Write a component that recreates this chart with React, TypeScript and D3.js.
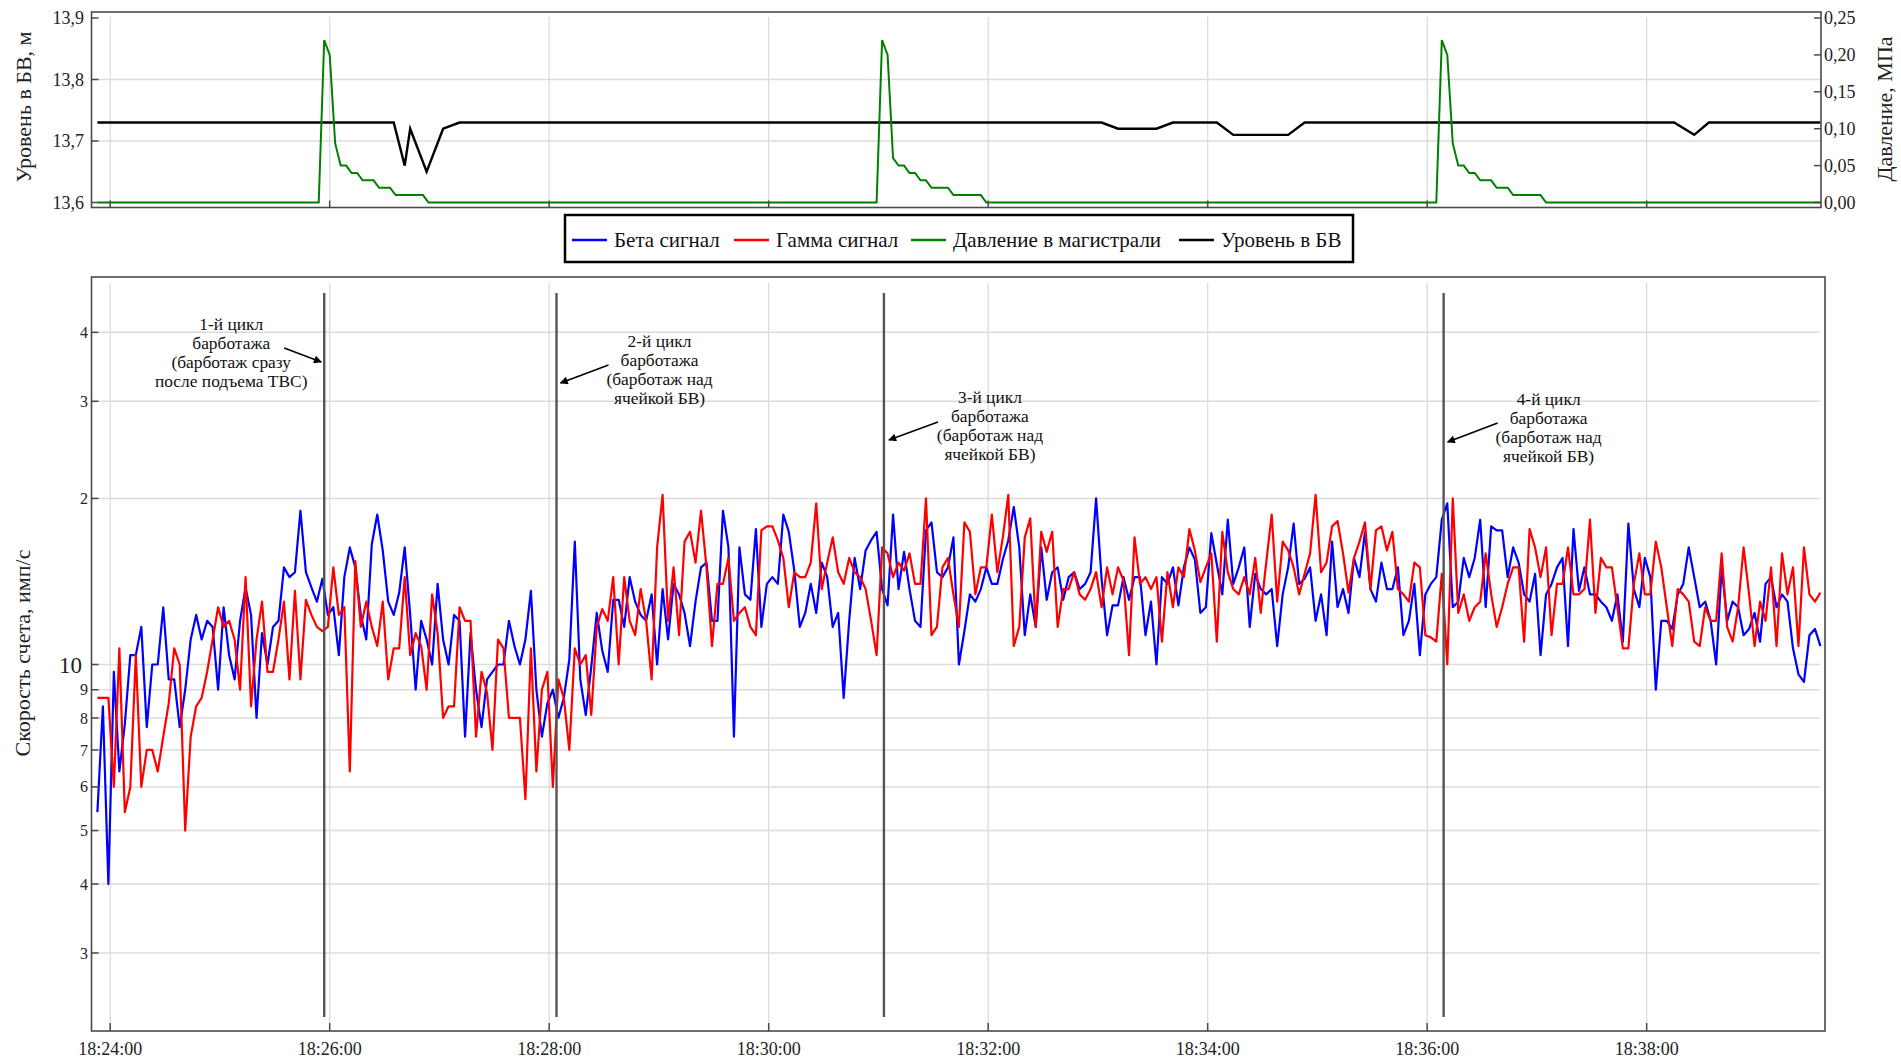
import * as d3 from "d3";

// samples every 3 s starting at 18:23:53
const seriesStart = "18:23:53";
const sampleStep = 3;

const betaSignal = [
  5.4, 8.4, 4.0, 9.7, 6.4, 7.8, 10.4, 10.4, 11.7, 7.7,
  10, 10, 12.7, 9.4, 9.4, 7.7, 9.0, 11.1, 12.3, 11.1,
  12.0, 11.7, 9.0, 12.7, 10.4, 9.4, 12.0, 13.8, 12.3, 8.0,
  11.4, 10, 11.7, 12.0, 15.0, 14.4, 14.7, 19.0, 14.7, 13.8,
  13.0, 14.3, 12.3, 12.7, 10.4, 14.4, 16.3, 15.0, 12.3, 11.1,
  16.5, 18.7, 16.1, 13.0, 12.3, 13.5, 16.3, 12.3, 9.0, 12.0,
  11.1, 10, 14.0, 11.1, 10, 12.3, 12.0, 7.4, 11.4, 9.0,
  7.7, 9.4, 9.7, 10, 10, 12.0, 10.8, 10, 11.1, 13.6,
  9.0, 7.4, 8.5, 9.0, 8.0, 8.7, 10.2, 16.7, 9.4, 8.1,
  9.9, 12.4, 10.6, 9.7, 13.1, 13.1, 11.7, 14.4, 13.0, 12.3,
  12.0, 13.4, 10, 13.7, 11.1, 14.0, 13.4, 12.4, 10.8, 13.0,
  15.0, 15.3, 12.0, 12.0, 19.0, 16.3, 7.4, 16.3, 13.4, 13.1,
  17.6, 11.7, 14.0, 14.4, 14.0, 18.7, 17.4, 14.8, 11.7, 12.4,
  14.0, 12.4, 15.3, 14.4, 11.7, 12.4, 8.7, 12.0, 15.6, 13.7,
  16.1, 16.8, 17.4, 13.7, 12.8, 18.7, 13.7, 16.0, 13.7, 12.0,
  11.7, 17.5, 18.1, 14.7, 14.4, 15.0, 17.0, 10, 11.5, 13.4,
  13.0, 13.7, 15.0, 14.0, 14.0, 15.5, 16.8, 19.3, 16.3, 11.3,
  13.4, 11.7, 16.3, 13.1, 14.7, 15.0, 13.1, 14.4, 14.7, 13.7,
  14.0, 14.7, 20.0, 14.3, 11.3, 12.8, 12.8, 14.4, 13.1, 14.4,
  14.4, 11.3, 13.0, 10, 14.4, 14.0, 15.0, 12.8, 15.0, 16.3,
  15.5, 12.4, 12.7, 17.3, 15.2, 13.4, 18.3, 14.0, 15.0, 16.3,
  11.7, 14.6, 13.7, 13.4, 13.7, 10.8, 13.4, 15.0, 18.0, 14.0,
  14.3, 15.0, 12.0, 13.4, 11.3, 16.7, 12.7, 13.7, 12.4, 15.6,
  14.4, 17.4, 13.7, 13.0, 15.3, 13.7, 13.7, 15.0, 11.3, 12.0,
  14.0, 10.4, 13.4, 14.0, 14.4, 18.3, 19.6, 12.7, 13.0, 15.6,
  14.4, 15.6, 18.3, 12.7, 17.8, 17.5, 17.5, 14.4, 16.3, 15.3,
  13.4, 13.0, 14.6, 10.4, 13.4, 14.0, 15.0, 15.6, 10.8, 17.6,
  13.6, 15.0, 13.4, 13.4, 13.0, 12.7, 12.0, 13.4, 11.0, 18.0,
  13.7, 12.7, 15.6, 14.4, 9.0, 12.0, 12.0, 11.6, 13.4, 14.0,
  16.3, 14.4, 12.7, 13.0, 12.0, 10, 15.0, 12.0, 13.0, 12.7,
  11.3, 11.6, 12.4, 11.0, 14.0, 14.4, 12.7, 13.4, 13.0, 10.7,
  9.6, 9.3, 11.3, 11.6, 10.8,
];

const gammaSignal = [
  8.7, 8.7, 8.7, 6.0, 10.7, 5.4, 6.0, 10.4, 6.0, 7.0,
  7.0, 6.4, 7.4, 8.5, 10.7, 10, 5.0, 7.4, 8.4, 8.7,
  9.7, 11.1, 12.7, 11.7, 12.0, 11.1, 9.0, 14.4, 8.4, 11.1,
  13.0, 9.7, 9.7, 11.1, 13.0, 9.4, 13.6, 9.4, 13.1, 12.3,
  11.7, 11.5, 11.7, 15.0, 12.3, 12.7, 6.4, 15.4, 11.7, 13.0,
  11.7, 10.8, 13.0, 9.4, 10.7, 10.7, 14.4, 10.4, 11.4, 10.8,
  9.0, 13.4, 11.4, 8.0, 8.4, 8.4, 12.7, 12.0, 12.0, 7.4,
  9.7, 8.9, 7.0, 11.1, 10.7, 8.0, 8.0, 8.0, 5.7, 10.7,
  6.4, 9.0, 9.7, 6.0, 9.4, 8.7, 7.0, 10.7, 10, 10.4,
  8.1, 11.7, 12.6, 12.0, 14.4, 10, 14.4, 12.0, 11.3, 13.7,
  12.0, 9.4, 16.3, 20.3, 12.0, 15.0, 11.3, 16.7, 17.4, 15.3,
  19.0, 15.0, 10.8, 14.0, 14.0, 15.6, 12.0, 12.4, 12.7, 11.7,
  11.3, 17.5, 17.8, 17.8, 16.8, 15.6, 12.7, 14.7, 14.4, 14.4,
  15.3, 19.6, 13.7, 15.3, 17.0, 14.7, 14.0, 15.6, 14.7, 14.4,
  13.7, 12.0, 10.4, 16.3, 15.9, 14.4, 15.3, 14.8, 15.9, 14.0,
  14.0, 20.0, 11.3, 11.7, 15.0, 15.6, 13.4, 11.7, 18.1, 17.4,
  13.4, 15.0, 15.0, 18.7, 14.7, 17.0, 20.3, 10.8, 11.7, 17.0,
  18.4, 11.7, 17.4, 16.0, 17.4, 11.7, 13.7, 13.7, 14.7, 13.4,
  13.1, 13.7, 14.7, 12.7, 15.0, 13.4, 15.0, 14.2, 10.4, 17.0,
  14.0, 14.4, 13.7, 14.4, 11.0, 14.7, 12.7, 15.0, 14.4, 17.6,
  16.1, 14.1, 15.0, 15.9, 11.0, 17.4, 14.7, 13.7, 13.4, 14.4,
  13.4, 15.6, 12.4, 15.3, 18.7, 13.0, 16.7, 16.1, 15.0, 13.4,
  14.6, 15.9, 20.3, 14.7, 15.3, 17.8, 18.2, 15.9, 13.5, 15.6,
  16.7, 18.1, 13.7, 17.5, 17.8, 16.1, 17.4, 13.7, 13.4, 13.0,
  15.3, 15.0, 11.3, 11.2, 11.0, 14.6, 10.0, 20.0, 12.4, 13.4,
  12.0, 12.7, 13.0, 15.9, 13.4, 11.7, 12.7, 14.0, 15.0, 15.0,
  11.0, 17.6, 16.3, 14.4, 16.3, 11.3, 14.0, 14.0, 16.3, 13.4,
  13.4, 13.7, 18.3, 12.4, 15.6, 15.0, 15.0, 12.7, 10.7, 10.7,
  14.0, 15.9, 13.4, 13.4, 16.7, 15.0, 12.7, 10.8, 13.7, 13.4,
  13.0, 11.0, 10.8, 12.7, 12.0, 12.0, 15.9, 11.7, 11.0, 12.7,
  16.3, 13.4, 10.8, 13.0, 12.0, 15.0, 10.8, 15.9, 13.4, 15.0,
  10.8, 16.3, 13.4, 13.0, 13.5,
];

// seconds from 18:24:00
const levelSec = [-7, 155, 161, 164, 173, 182, 191, 542, 551, 572, 581, 605, 614, 644, 653, 855, 866, 874, 935];
const levelVal = [13.73, 13.73, 13.66, 13.72, 13.65, 13.72, 13.73, 13.73, 13.72, 13.72, 13.73, 13.73, 13.71, 13.71, 13.73, 13.73, 13.71, 13.73, 13.73];

const pressureSec = [
  -7, 114, 117, 120, 123, 126, 129, 132, 135, 138, 144, 147, 153, 156, 171, 174,
  419, 422, 425, 428, 431, 434, 437, 440, 443, 446, 449, 458, 461, 476, 479,
  725, 728, 731, 734, 737, 740, 743, 746, 749, 755, 758, 764, 767, 782, 785, 935,
];
const pressureVal = [
  0, 0, 0.22, 0.2, 0.08, 0.05, 0.05, 0.04, 0.04, 0.03, 0.03, 0.02, 0.02, 0.01, 0.01, 0,
  0, 0.22, 0.2, 0.06, 0.05, 0.05, 0.04, 0.04, 0.03, 0.03, 0.02, 0.02, 0.01, 0.01, 0,
  0, 0.22, 0.2, 0.08, 0.05, 0.05, 0.04, 0.04, 0.03, 0.03, 0.02, 0.02, 0.01, 0.01, 0, 0,
];

const cycleTimes = ["18:25:57", "18:28:04", "18:31:03", "18:36:09"];
const cycleNotes = [
  ["1-й цикл", "барботажа", "(барботаж сразу", "после подъема ТВС)"],
  ["2-й цикл", "барботажа", "(барботаж над", "ячейкой БВ)"],
  ["3-й цикл", "барботажа", "(барботаж над", "ячейкой БВ)"],
  ["4-й цикл", "барботажа", "(барботаж над", "ячейкой БВ)"],
];

const timeTicks = ["18:24:00", "18:26:00", "18:28:00", "18:30:00", "18:32:00", "18:34:00", "18:36:00", "18:38:00"];
const levelTicks = [13.6, 13.7, 13.8, 13.9];
const pressureTicks = [0, 0.05, 0.1, 0.15, 0.2, 0.25];
const countTicks = [3, 4, 5, 6, 7, 8, 9, 10, 20, 30, 40];

const legendItems = [
  { label: "Бета сигнал", color: "#0000ff" },
  { label: "Гамма сигнал", color: "#ff0000" },
  { label: "Давление в магистрали", color: "#008000" },
  { label: "Уровень в БВ", color: "#000000" },
];

const clock = (s: string) => new Date(`2000-01-01T${s}`);
const zero = clock("18:24:00");
const sec = (s: number) => new Date(+zero + s * 1000);
const comma = (f: string) => (v: number) => d3.format(f)(v).replace(".", ",");

const FONT = "'Liberation Serif', 'Times New Roman', serif";
const GRID = "#dcdcdc";
const FRAME = "#4a4a4a";

// annotation placement relative to each cycle line
const noteLayout = [
  { dx: -93, y: 324, a: [-40, 348, -3, 362] },
  { dx: 103, y: 341, a: [52, 365, 4, 383] },
  { dx: 106, y: 397, a: [54, 422, 5, 440] },
  { dx: 105, y: 399, a: [54, 423, 4, 442] },
];
const legendX = [572, 734, 911, 1179];

export default function App() {
  const L = 91.5;
  const topY0 = 12, topY1 = 207.5, topR = 1821;
  const botY0 = 277, botY1 = 1031, botR = 1825;

  const x = d3.scaleTime().domain([sec(-10.5), sec(937.5)]).range([91, 1825]);
  const yLevel = d3.scaleLinear().domain([13.6, 13.9]).range([202.5, 18]);
  const yPress = d3.scaleLinear().domain([0, 0.25]).range([202.5, 18]);
  const yCount = d3.scaleLog().domain([2.166, 50.4]).range([botY1, botY0]);

  const t0 = clock(seriesStart);
  const times = betaSignal.map((_, i) => d3.timeSecond.offset(t0, i * sampleStep));

  const countLine = d3.line<number>().x((_, i) => x(times[i])).y((d) => yCount(d));
  const levelLine = d3.line<number>().x((_, i) => x(sec(levelSec[i]))).y((d) => yLevel(d));
  const pressLine = d3.line<number>().x((_, i) => x(sec(pressureSec[i]))).y((d) => yPress(d));

  const ticksX = timeTicks.map((s) => x(clock(s)));
  const fmtLevel = comma(".1f");
  const fmtPress = comma(".2f");

  return (
    <svg width={1901} height={1061} style={{ position: "absolute", left: 0, top: 0, background: "#fff" }} fontFamily={FONT}>
      <defs>
        <marker id="arr" viewBox="0 0 10 10" refX="9" refY="5" markerWidth="11" markerHeight="8" markerUnits="userSpaceOnUse" orient="auto">
          <path d="M0,0 L10,5 L0,10 z" fill="#000" />
        </marker>
      </defs>

      {/* ---------- top panel ---------- */}
      {ticksX.map((tx, i) => (
        <line key={"tg" + i} x1={tx} x2={tx} y1={17} y2={topY1} stroke={GRID} strokeWidth={1.3} />
      ))}
      {[13.7, 13.8].map((v) => (
        <line key={"th" + v} x1={L} x2={topR} y1={yLevel(v)} y2={yLevel(v)} stroke={GRID} strokeWidth={1.5} />
      ))}
      <path d={levelLine(levelVal) || ""} fill="none" stroke="#000" strokeWidth={2.4} />
      <path d={pressLine(pressureVal) || ""} fill="none" stroke="#008000" strokeWidth={2} />
      <rect x={L} y={topY0} width={topR - L} height={topY1 - topY0} fill="none" stroke={FRAME} strokeWidth={1.6} />
      {ticksX.map((tx, i) => (
        <line key={"tt" + i} x1={tx} x2={tx} y1={topY1} y2={topY1 - 7} stroke={FRAME} strokeWidth={1.5} />
      ))}
      {levelTicks.map((v) => (
        <g key={"lt" + v}>
          <line x1={L} x2={L + 7} y1={yLevel(v)} y2={yLevel(v)} stroke={FRAME} strokeWidth={1.5} />
          <text x={84} y={yLevel(v)} dy="0.35em" textAnchor="end" fontSize={18} fill="#222">{fmtLevel(v)}</text>
        </g>
      ))}
      {pressureTicks.map((v) => (
        <g key={"pt" + v}>
          <line x1={topR - 7} x2={topR} y1={yPress(v)} y2={yPress(v)} stroke={FRAME} strokeWidth={1.5} />
          <text x={1824} y={yPress(v)} dy="0.35em" textAnchor="start" fontSize={18} fill="#222">{fmtPress(v)}</text>
        </g>
      ))}
      <text transform="translate(23,107) rotate(-90)" textAnchor="middle" dy="0.35em" fontSize={22} fill="#222">Уровень в БВ, м</text>
      <text transform="translate(1884,109) rotate(-90)" textAnchor="middle" dy="0.35em" fontSize={22} fill="#222">Давление, МПа</text>

      {/* ---------- legend ---------- */}
      <rect x={565} y={215} width={788} height={47} fill="#fff" stroke="#000" strokeWidth={2.5} />
      {legendItems.map((it, i) => (
        <g key={it.label}>
          <line x1={legendX[i]} x2={legendX[i] + 35} y1={240} y2={240} stroke={it.color} strokeWidth={2.5} />
          <text x={legendX[i] + 42} y={240} dy="0.35em" fontSize={21} fill="#111">{it.label}</text>
        </g>
      ))}

      {/* ---------- bottom panel ---------- */}
      {ticksX.map((tx, i) => (
        <line key={"bg" + i} x1={tx} x2={tx} y1={283} y2={botY1} stroke={GRID} strokeWidth={1.3} />
      ))}
      {countTicks.map((v) => (
        <line key={"bh" + v} x1={L} x2={1820} y1={yCount(v)} y2={yCount(v)} stroke={GRID} strokeWidth={1.5} />
      ))}
      <path d={countLine(betaSignal) || ""} fill="none" stroke="#0000ff" strokeWidth={2.2} strokeLinejoin="round" />
      <path d={countLine(gammaSignal) || ""} fill="none" stroke="#ff0000" strokeWidth={2.2} strokeLinejoin="round" />

      {cycleTimes.map((s, i) => {
        const cx = x(clock(s));
        const n = noteLayout[i];
        return (
          <g key={s}>
            <line x1={cx} x2={cx} y1={293} y2={1017} stroke="#555" strokeWidth={2.4} />
            {cycleNotes[i].map((t, j) => (
              <text key={j} x={cx + n.dx} y={n.y + j * 19} dy="0.35em" textAnchor="middle" fontSize={17.4} fill="#111">{t}</text>
            ))}
            <line x1={cx + n.a[0]} y1={n.a[1]} x2={cx + n.a[2]} y2={n.a[3]} stroke="#000" strokeWidth={1.6} markerEnd="url(#arr)" />
          </g>
        );
      })}

      <rect x={L} y={botY0} width={botR - L} height={botY1 - botY0} fill="none" stroke={FRAME} strokeWidth={1.6} />
      {ticksX.map((tx, i) => (
        <g key={"bt" + i}>
          <line x1={tx} x2={tx} y1={botY1} y2={botY1 - 8} stroke={FRAME} strokeWidth={1.5} />
          <text x={tx} y={1049} dy="0.35em" textAnchor="middle" fontSize={18} fill="#222">{timeTicks[i]}</text>
        </g>
      ))}
      {countTicks.map((v) => (
        <g key={"ct" + v}>
          <line x1={L} x2={L + 7} y1={yCount(v)} y2={yCount(v)} stroke={FRAME} strokeWidth={1.5} />
          <text x={v === 10 ? 82 : 88} y={yCount(v)} dy="0.35em" textAnchor="end" fontSize={v === 10 ? 23 : 16} fill="#222">
            {v >= 20 ? String(v / 10) : String(v)}
          </text>
        </g>
      ))}
      <text transform="translate(22,653) rotate(-90)" textAnchor="middle" dy="0.35em" fontSize={22} fill="#222">Скорость счета, имп/с</text>
    </svg>
  );
}
